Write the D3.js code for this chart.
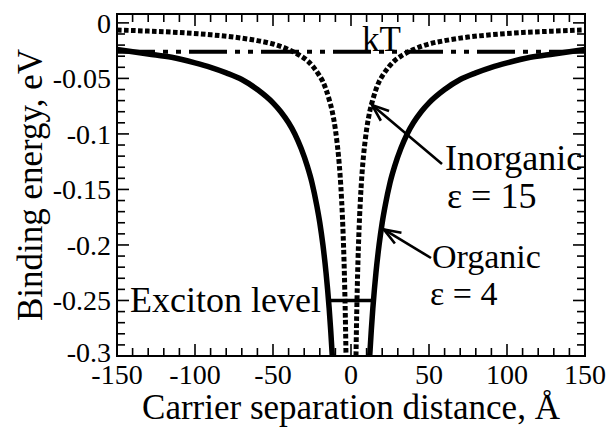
<!DOCTYPE html>
<html>
<head>
<meta charset="utf-8">
<script src="https://cdn.jsdelivr.net/npm/d3@7"></script>
<style>
  html, body { margin: 0; padding: 0; background: #fff; }
  svg { display: block; }
  svg text { font-family: "Liberation Serif", "DejaVu Serif", "Times New Roman", serif; }
</style>
</head>
<body>
<svg id="chart" width="609" height="427"></svg>
<script>
// Carrier separation distance (Å) and binding energy (eV) for each material
const organicDistance = [-150, -130, -115, -100, -90, -80, -70, -60, -50, -45, -40, -36, -32, -28, -25, -22, -20, -18, -16, -15, -14, -13, -12,
                         null,
                         12, 13, 14, 15, 16, 18, 20, 22, 25, 28, 32, 36, 40, 45, 50, 60, 70, 80, 90, 100, 115, 130, 150];
const organicEnergy = [-0.024, -0.028, -0.031, -0.036, -0.040, -0.045, -0.051, -0.060, -0.072, -0.080, -0.090, -0.100, -0.113, -0.129, -0.144, -0.164, -0.180, -0.200, -0.225, -0.240, -0.257, -0.277, -0.300,
                       null,
                       -0.300, -0.277, -0.257, -0.240, -0.225, -0.200, -0.180, -0.164, -0.144, -0.129, -0.113, -0.100, -0.090, -0.080, -0.072, -0.060, -0.051, -0.045, -0.040, -0.036, -0.031, -0.028, -0.024];

const inorganicDistance = [-150, -130, -110, -90, -75, -60, -50, -40, -32, -28, -24, -20, -18, -16, -14, -12, -10, -9, -8, -7, -6, -5, -4.5, -4, -3.5, -3.2,
                           null,
                           3.2, 3.5, 4, 4.5, 5, 6, 7, 8, 9, 10, 12, 14, 16, 18, 20, 24, 28, 32, 40, 50, 60, 75, 90, 110, 130, 150];
const inorganicEnergy = [-0.0064, -0.0074, -0.0087, -0.0107, -0.0128, -0.016, -0.019, -0.024, -0.030, -0.034, -0.040, -0.048, -0.053, -0.060, -0.069, -0.080, -0.096, -0.107, -0.120, -0.137, -0.160, -0.192, -0.213, -0.240, -0.274, -0.300,
                         null,
                         -0.300, -0.274, -0.240, -0.213, -0.192, -0.160, -0.137, -0.120, -0.107, -0.096, -0.080, -0.069, -0.060, -0.053, -0.048, -0.040, -0.034, -0.030, -0.024, -0.019, -0.016, -0.0128, -0.0107, -0.0087, -0.0074, -0.0064];

// Thermal energy at room temperature and the exciton level
const kTEnergy = -0.0259;
const excitonEnergy = -0.25;
const excitonDistance = [-14.4, 14.4];

// Axis ticks and labels
const xTicks = [-150, -100, -50, 0, 50, 100, 150];
const xTickLabels = ["-150", "-100", "-50", "0", "50", "100", "150"];
const yTicks = [0, -0.05, -0.1, -0.15, -0.2, -0.25, -0.3];
const yTickLabels = ["0", "-0.05", "-0.1", "-0.15", "-0.2", "-0.25", "-0.3"];

// Points on the curves that the labels point to
const inorganicPointer = [13.5, -0.074];
const organicPointer = [21, -0.186];

const svg = d3.select("#chart");
const plotLeft = 117, plotRight = 585, plotTop = 14, plotBottom = 356;

const x = d3.scaleLinear().domain([-150, 150]).range([plotLeft, plotRight]);
const y = d3.scaleLinear().domain([-0.3, 0.008]).range([plotBottom, plotTop]);

svg.append("clipPath").attr("id", "plot")
  .append("rect").attr("x", plotLeft).attr("y", plotTop)
  .attr("width", plotRight - plotLeft).attr("height", plotBottom - plotTop);

const plot = svg.append("g").attr("clip-path", "url(#plot)");

const line = d3.line()
  .defined(d => d[0] !== null)
  .x(d => x(d[0])).y(d => y(d[1]))
  .curve(d3.curveMonotoneX);

// kT reference line (dash-dot-dot)
plot.append("line")
  .attr("x1", x(-150)).attr("x2", x(150))
  .attr("y1", y(kTEnergy)).attr("y2", y(kTEnergy))
  .attr("stroke", "#000").attr("stroke-width", 4)
  .attr("stroke-dasharray", "38,8,5,8,5,8");

// Inorganic, ε = 15 (dotted)
plot.append("path")
  .datum(inorganicDistance.map((d, i) => [d, inorganicEnergy[i]]))
  .attr("d", line)
  .attr("fill", "none").attr("stroke", "#000").attr("stroke-width", 5)
  .attr("stroke-dasharray", "4.6,2.4");

// Organic, ε = 4 (solid)
plot.append("path")
  .datum(organicDistance.map((d, i) => [d, organicEnergy[i]]))
  .attr("d", line)
  .attr("fill", "none").attr("stroke", "#000").attr("stroke-width", 5.5);

// Exciton level
plot.append("line")
  .attr("x1", x(excitonDistance[0])).attr("x2", x(excitonDistance[1]))
  .attr("y1", y(excitonEnergy)).attr("y2", y(excitonEnergy))
  .attr("stroke", "#000").attr("stroke-width", 3.5);

// Frame
svg.append("rect")
  .attr("x", plotLeft).attr("y", plotTop)
  .attr("width", plotRight - plotLeft).attr("height", plotBottom - plotTop)
  .attr("fill", "none").attr("stroke", "#000").attr("stroke-width", 2);

// Inward ticks on all four sides
const xMinor = d3.range(-150, 151, 10);
const yMinor = d3.range(-30, 1, 1).map(v => v / 100);
const isMajorX = v => v % 50 === 0;
const isMajorY = v => Math.abs(Math.round(v * 100)) % 5 === 0;
const ticks = svg.append("g").attr("stroke", "#000").attr("stroke-width", 1.6);
xMinor.forEach(v => {
  const len = isMajorX(v) ? 12 : 8;
  ticks.append("line").attr("x1", x(v)).attr("x2", x(v)).attr("y1", plotBottom).attr("y2", plotBottom - len);
  ticks.append("line").attr("x1", x(v)).attr("x2", x(v)).attr("y1", plotTop).attr("y2", plotTop + len);
});
yMinor.forEach(v => {
  const len = isMajorY(v) ? 12 : 8;
  ticks.append("line").attr("x1", plotLeft).attr("x2", plotLeft + len).attr("y1", y(v)).attr("y2", y(v));
  ticks.append("line").attr("x1", plotRight).attr("x2", plotRight - len).attr("y1", y(v)).attr("y2", y(v));
});

// Tick labels (the lowest y label sits a little higher, clear of the x labels)
svg.append("g").selectAll("text").data(xTicks).join("text")
  .attr("x", d => x(d)).attr("y", 384)
  .attr("text-anchor", "middle").attr("font-size", 28)
  .text((d, i) => xTickLabels[i]);
svg.append("g").selectAll("text").data(yTicks).join("text")
  .attr("x", plotLeft - 6).attr("y", d => y(d) + (d === -0.3 ? 6 : 10))
  .attr("text-anchor", "end").attr("font-size", 28)
  .text((d, i) => yTickLabels[i]);

// Axis titles
svg.append("text")
  .attr("x", (plotLeft + plotRight) / 2).attr("y", 419)
  .attr("text-anchor", "middle").attr("font-size", 35)
  .text("Carrier separation distance, Å");
svg.append("text")
  .attr("transform", `translate(42, ${(plotTop + plotBottom) / 2}) rotate(-90)`)
  .attr("text-anchor", "middle").attr("font-size", 35)
  .text("Binding energy, eV");

// Annotations
const ann = svg.append("g").attr("font-size", 36);
ann.append("text").attr("x", 362).attr("y", 51).attr("font-size", 35).text("kT");
ann.append("text").attr("x", 130).attr("y", 312).text("Exciton level");
ann.append("text").attr("x", 445).attr("y", 170).text("Inorganic");
ann.append("text").attr("x", 447).attr("y", 208).text("ε = 15");
ann.append("text").attr("x", 432).attr("y", 268).attr("font-size", 34).text("Organic");
ann.append("text").attr("x", 430).attr("y", 305).attr("font-size", 34).text("ε = 4");

// Arrows from labels to curves
function arrow(fromX, fromY, tip) {
  const tx = x(tip[0]), ty = y(tip[1]);
  const ang = Math.atan2(ty - fromY, tx - fromX);
  const L = 18, spread = 0.36;
  const g = svg.append("g").attr("stroke", "#000").attr("fill", "none").attr("stroke-width", 2.6);
  g.append("line").attr("x1", fromX).attr("y1", fromY).attr("x2", tx).attr("y2", ty);
  g.append("path")
    .attr("d", `M${tx - L * Math.cos(ang - spread)},${ty - L * Math.sin(ang - spread)}L${tx},${ty}L${tx - L * Math.cos(ang + spread)},${ty - L * Math.sin(ang + spread)}`)
    .attr("stroke-linejoin", "miter");
}
arrow(442, 164, inorganicPointer);
arrow(431, 258, organicPointer);
</script>
</body>
</html>
